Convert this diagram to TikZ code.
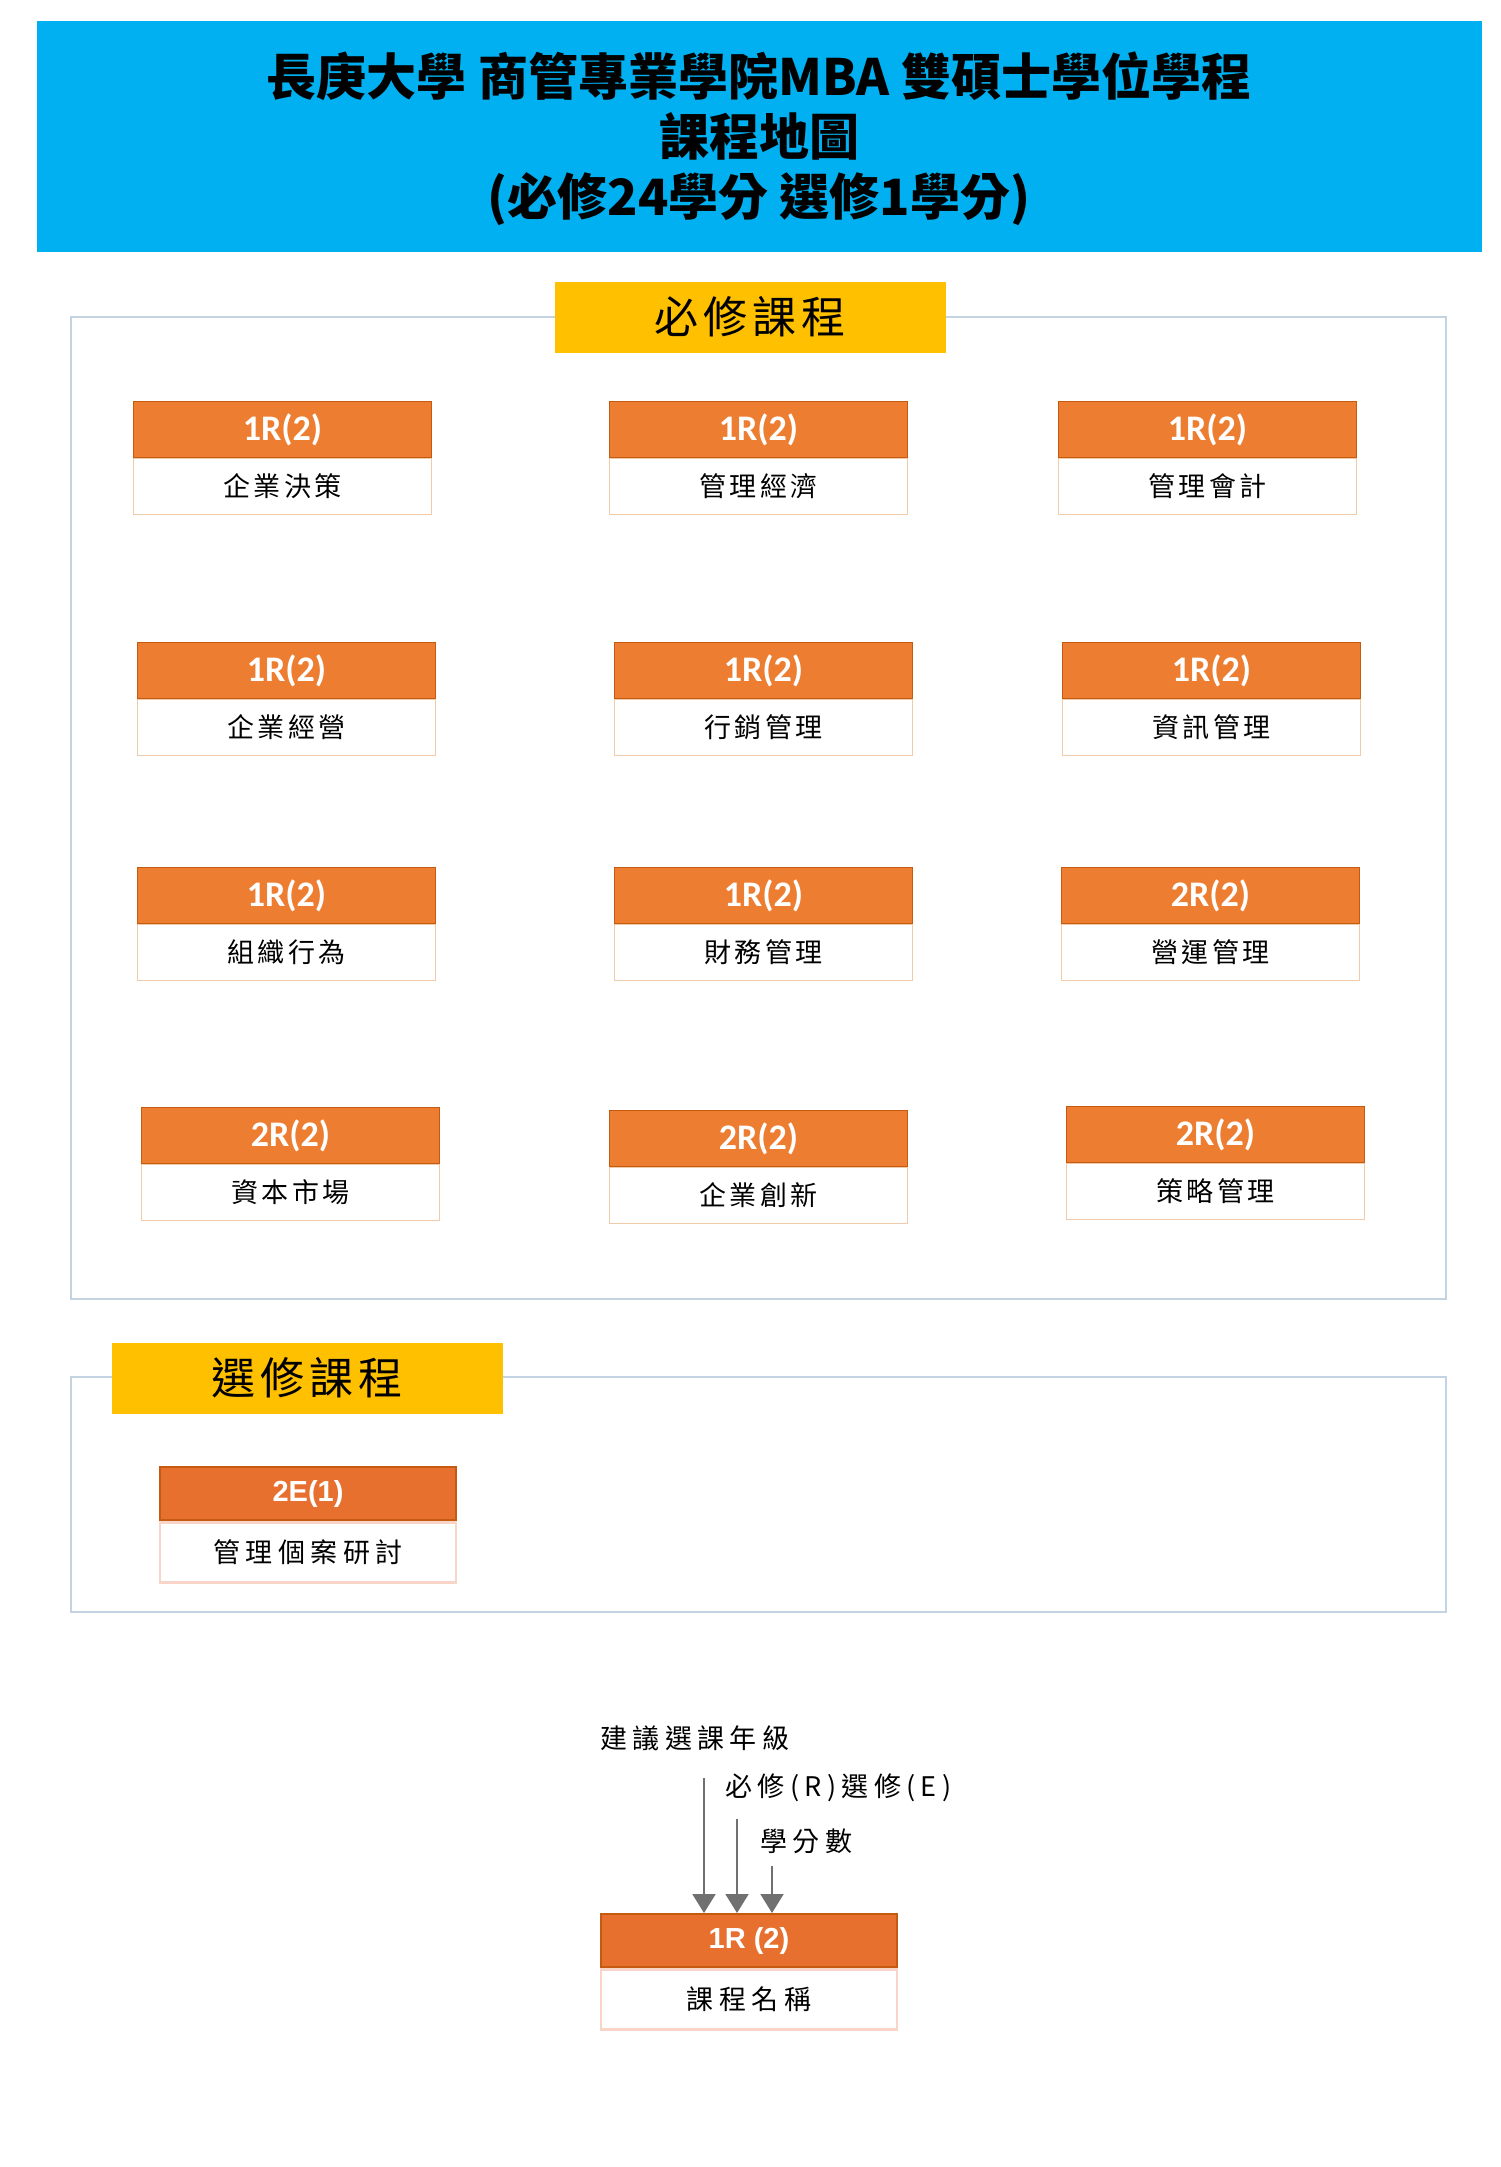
\documentclass[tikz,border=0pt]{standalone}
\usepackage{fontspec}
\usepackage{xcolor}
\usepackage{tikz}
\usetikzlibrary{arrows.meta,positioning}
\newfontfamily\cjk{Noto Sans CJK TC}
\newfontfamily\cjksp[LetterSpace=12]{Noto Sans CJK TC}
\newfontfamily\cjkwide[LetterSpace=20]{Noto Sans CJK TC}
\newfontfamily\calfont{Carlito}
\newfontfamily\arialfont{Liberation Sans}
\definecolor{titleblue}{HTML}{00B0F0}
\definecolor{labyellow}{HTML}{FFC000}
\definecolor{barorange}{HTML}{ED7D31}
\definecolor{ebarorange}{HTML}{E8702F}
\definecolor{barborder}{HTML}{C55A11}
\definecolor{nameborder}{HTML}{EFCBAA}
\definecolor{enameborder}{HTML}{F8D5C8}
\definecolor{frameline}{HTML}{C3D3E2}
\definecolor{ptrgray}{HTML}{707070}
\tikzset{
    frame/.style={
        draw=frameline,
        line width=1.2pt
    },
    seclab/.style={
        fill=labyellow,
        minimum width=391pt,
        minimum height=71pt,
        inner sep=0pt,
        font=\cjksp\fontsize{44}{48}\selectfont
    },
    hdbox/.style={
        anchor=north west,
        fill=barorange,
        draw=barborder,
        line width=1pt,
        minimum width=298pt,
        minimum height=56pt,
        inner sep=0pt,
        text=white,
        font=\calfont\bfseries\fontsize{36}{40}\selectfont
    },
    namebox/.style={
        fill=white,
        draw=nameborder,
        line width=1pt,
        minimum width=298pt,
        minimum height=56pt,
        inner sep=0pt,
        font=\cjksp\fontsize{27}{30}\selectfont
    },
    ehdbox/.style={
        anchor=north west,
        fill=ebarorange,
        draw=barborder,
        line width=2pt,
        minimum width=296pt,
        minimum height=53pt,
        inner sep=0pt,
        text=white,
        font=\arialfont\bfseries\fontsize{29}{32}\selectfont
    },
    enamebox/.style={
        fill=white,
        draw=enameborder,
        line width=2.5pt,
        minimum width=296pt,
        minimum height=60pt,
        inner sep=0pt,
        font=\cjkwide\fontsize{27}{30}\selectfont
    },
    lgtext/.style={
        anchor=west,
        inner sep=0pt,
        font=\cjkwide\fontsize{27}{30}\selectfont
    },
    legptr/.style={
        -{Triangle[width=23pt,length=19pt]},
        draw=ptrgray,
        fill=ptrgray,
        line width=2pt
    }
}

\begin{document}
\begin{tikzpicture}[x=1pt,y=-1pt]
        \useasboundingbox (0,0) rectangle (1500,2167);
        % draw title bar
        \fill[titleblue] (37,21) rectangle (1482,252);
        \node[align=center, inner sep=0pt, font=\cjk\bfseries\fontsize{50}{60}\selectfont] (title) at (759,139)
            {長庚大學 商管專業學院MBA 雙碩士學位學程\\課程地圖\\(必修24學分 選修1學分)};

        % draw frames and their labels
        \draw[frame] (71,317) rectangle (1446,1299);
        \node[seclab] (reqlab) at (750,317) {必修課程};
        \draw[frame] (71,1377) rectangle (1446,1612);
        \node[seclab] (elelab) at (307,1378) {選修課程};

        % draw required courses
        \foreach \k/\px/\py/\cd/\nm in {1/133/401/1R(2)/企業決策, 2/609/401/1R(2)/管理經濟, 3/1058/401/1R(2)/管理會計,
            4/137/642/1R(2)/企業經營, 5/614/642/1R(2)/行銷管理, 6/1062/642/1R(2)/資訊管理,
            7/137/867/1R(2)/組織行為, 8/614/867/1R(2)/財務管理, 9/1061/867/2R(2)/營運管理,
            10/141/1107/2R(2)/資本市場, 11/609/1110/2R(2)/企業創新, 12/1066/1106/2R(2)/策略管理}
        {
            \node[hdbox] (hd\k) at (\px,\py) {\cd};
            \node[namebox, below=0pt of hd\k] (nm\k) {\nm};
        }

        % draw elective course
        \node[ehdbox] (ehd1) at (159,1466) {2E(1)};
        \node[enamebox, below=0pt of ehd1] (enm1) {管理個案研討};

        % draw legend
        \node[lgtext] (lg1) at (600,1738) {建議選課年級};
        \node[lgtext] (lg2) at (725,1788) {必修(R)選修(E)};
        \node[lgtext] (lg3) at (760,1841) {學分數};
        \node[ehdbox] (lghd) at (600,1913) {1R (2)};
        \node[enamebox, below=0pt of lghd] (lgnm) {課程名稱};
        \foreach \i/\px/\py in {1/704/1778, 2/737/1819, 3/772/1866}
        {
            \coordinate (p\i) at (\px,\py);
            \draw[legptr] (p\i) -- (p\i |- lghd.north);
        }
    \end{tikzpicture}
\end{document}
